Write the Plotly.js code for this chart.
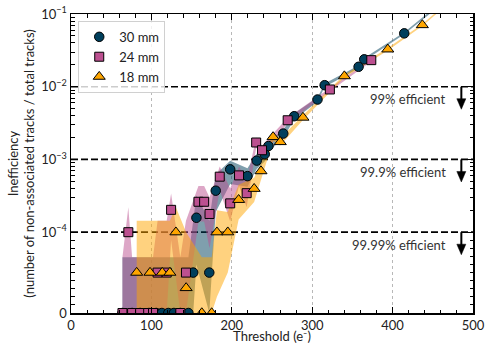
<!DOCTYPE html>
<html><head><meta charset="utf-8">
<script src="https://cdn.plot.ly/plotly-3.0.1.min.js"></script>
<style>html,body{margin:0;padding:0;background:#fff}#chart{width:486px;height:344px}</style>
</head><body><div id="chart"></div>
<script>
// symlog transform (linthresh 1e-4, linscale 1)
const LINTHRESH = 1e-4, LINSCALE = 1 / (1 - 1 / 10);
function T(v) { return v <= LINTHRESH ? LINSCALE * v / LINTHRESH : LINSCALE + Math.log10(v / LINTHRESH); }

// 30 mm
const x30  = [64, 76, 86, 97, 106, 113, 121, 128, 136, 146, 152, 156, 172, 180, 198, 219.5, 231, 241, 245.6, 264, 277.6, 306.6, 315.5, 357.7, 364.7, 414.5, 455];
const y30  = [0, 0, 0, 0, 0, 0, 0, 0, 0, 0, 5e-5, 1.58e-4, 5e-5, 3.72e-4, 7.31e-4, 5.9e-4, 9.64e-4, 1.18e-3, 1.53e-3, 2.27e-3, 3.93e-3, 6.67e-3, 1.05e-2, 1.88e-2, 2.38e-2, 5.42e-2, 0.125];
const lo30 = [0, 0, 0, 0, 0, 0, 0, 0, 0, 0, 0, 6e-5, 0, 1.9e-4, 4.6e-4, 4.2e-4, 7.4e-4, 9.4e-4, 1.28e-3, 1.98e-3, 3.55e-3, 6.2e-3, 9.9e-3, 1.8e-2, 2.28e-2, 5.25e-2, 0.12];
const hi30 = [6.9e-5, 6.9e-5, 6.9e-5, 6.9e-5, 6.9e-5, 6.9e-5, 6.9e-5, 6.9e-5, 6.9e-5, 6.9e-5, 1.44e-4, 3.2e-4, 1.44e-4, 6.2e-4, 9.6e-4, 7.6e-4, 1.2e-3, 1.42e-3, 1.78e-3, 2.56e-3, 4.3e-3, 7.1e-3, 1.11e-2, 1.96e-2, 2.48e-2, 5.6e-2, 0.13];

// 24 mm
const x24  = [64, 71.3, 76, 86, 96, 102, 107.7, 119, 124.5, 136, 143, 158.5, 165.6, 172.3, 185, 198, 209, 218.5, 230.3, 237.6, 269.5, 322, 373.5];
const y24  = [0, 1e-4, 0, 0, 0, 0, 5e-5, 5e-5, 2.03e-4, 0, 5e-5, 2.62e-4, 2.62e-4, 1.78e-4, 5.8e-4, 2.49e-4, 6.04e-4, 3.44e-4, 1.71e-3, 1.34e-3, 3.46e-3, 9.17e-3, 2.32e-2];
const lo24 = [0, 0, 0, 0, 0, 0, 0, 0, 9e-5, 0, 0, 1.4e-4, 1.4e-4, 8e-5, 3.8e-4, 1.4e-4, 4.3e-4, 2.2e-4, 1.45e-3, 1.12e-3, 3.15e-3, 8.7e-3, 2.23e-2];
const hi24 = [6.9e-5, 2.2e-4, 6.9e-5, 6.9e-5, 6.9e-5, 6.9e-5, 1.44e-4, 1.44e-4, 3.4e-4, 6.9e-5, 1.44e-4, 4.3e-4, 4.3e-4, 3.0e-4, 8e-4, 4e-4, 8e-4, 5e-4, 2.0e-3, 1.56e-3, 3.75e-3, 9.6e-3, 2.41e-2];

// 18 mm
const x18  = [81.7, 98.3, 113.5, 123, 130.5, 143.2, 162.7, 175, 181.5, 195, 208.5, 227.8, 236.3, 251.3, 260.3, 288.5, 340, 394, 437, 465];
const y18  = [5e-5, 5e-5, 5e-5, 5e-5, 1e-4, 3.1e-5, 0, 0, 1e-4, 1e-4, 2.79e-4, 3.96e-4, 6.92e-4, 2.04e-3, 1.74e-3, 3.77e-3, 1.4e-2, 3.27e-2, 7.06e-2, 0.13];
const lo18 = [0, 0, 0, 0, 0, 0, 0, 0, 2e-5, 5e-5, 1.5e-4, 2.6e-4, 5.2e-4, 1.8e-3, 1.55e-3, 3.5e-3, 1.34e-2, 3.15e-2, 6.85e-2, 0.126];
const hi18 = [1.44e-4, 1.44e-4, 1.44e-4, 1.44e-4, 2.2e-4, 1.0e-4, 6.9e-5, 6.9e-5, 2.0e-4, 1.9e-4, 4.5e-4, 5.6e-4, 8.8e-4, 2.3e-3, 1.95e-3, 4.05e-3, 1.46e-2, 3.4e-2, 7.3e-2, 0.134];

const seriesNames = ['30 mm', '24 mm', '18 mm'];
const markerColors = ['#003f5c', '#bc5090', '#ffa600'];
const bandColors = ['rgba(0,63,92,0.5)', 'rgba(188,80,144,0.5)', 'rgba(255,166,0,0.5)'];
const symbols = ['circle', 'square', 'triangle-up'];

const yTickVals = [0, 1e-4, 1e-3, 1e-2, 1e-1];
const yTickText = ['0', '10<sup>−4</sup>', '10<sup>−3</sup>', '10<sup>−2</sup>', '10<sup>−1</sup>'];
const effLevels = [1e-2, 1e-3, 1e-4];
const effLabels = ['99% efficient', '99.9% efficient', '99.99% efficient'];

const X = [x30, x24, x18], Y = [y30, y24, y18], LO = [lo30, lo24, lo18], HI = [hi30, hi24, hi18];

const traces = [];
for (let i = 0; i < 3; i++) {
  const xs = X[i].concat(X[i].slice().reverse());
  const ys = HI[i].map(T).concat(LO[i].slice().reverse().map(T));
  traces.push({ x: xs, y: ys, type: 'scatter', mode: 'lines', fill: 'toself',
    fillcolor: bandColors[i], line: { width: 0 }, showlegend: false, hoverinfo: 'skip' });
}
const msize = [9.5, 9, 10.5];
for (let i = 0; i < 3; i++) {
  traces.push({ x: X[i], y: Y[i].map(T), type: 'scatter', mode: 'markers', name: seriesNames[i],
    cliponaxis: true,
    marker: { symbol: symbols[i], size: msize[i], color: markerColors[i], line: { color: '#000', width: 1 } } });
}

// minor ticks for symlog axis
const minorY = [];
for (let k = 1; k <= 9; k++) minorY.push(T(k * 1e-5));
for (const d of [1e-4, 1e-3, 1e-2]) for (let k = 2; k <= 9; k++) minorY.push(T(k * d));

const shapes = [], annotations = [];
const pxPerT = 299 / T(1e-1);
const pxPerX = 402 / 500;
effLevels.forEach((lv, i) => {
  const yl = T(lv);
  shapes.push({ type: 'line', xref: 'paper', x0: 0, x1: 1, yref: 'y', y0: yl, y1: yl, layer: 'below',
    line: { color: '#000', width: 1.7, dash: '7px,3px' } });
  const ax = 485.5;
  shapes.push({ type: 'line', xref: 'x', yref: 'y', x0: ax, x1: ax, y0: yl, y1: yl - 13 / pxPerT,
    line: { color: '#000', width: 2 } });
  const hw = 4.5 / pxPerX;
  const yb = yl - 12 / pxPerT, ya = yl - 22.5 / pxPerT;
  shapes.push({ type: 'path', xref: 'x', yref: 'y',
    path: `M ${ax - hw} ${yb} L ${ax + hw} ${yb} L ${ax} ${ya} Z`,
    fillcolor: '#000', line: { color: '#000', width: 0.5 } });
  annotations.push({ xref: 'x', yref: 'y', x: 468.5, y: yl, yshift: -12.5, xanchor: 'right', yanchor: 'middle',
    text: effLabels[i], showarrow: false, font: { size: 13, color: '#333', family: 'Lato' } });
});

const layout = {
  width: 486, height: 344,
  margin: { l: 71, r: 13, t: 14, b: 31 },
  paper_bgcolor: '#fff', plot_bgcolor: '#fff',
  font: { family: 'Lato', size: 13, color: '#222' },
  showlegend: true,
  legend: { x: 0.018, y: 0.977, xanchor: 'left', yanchor: 'top', bgcolor: 'rgba(255,255,255,0.8)',
    bordercolor: '#d0d0d0', borderwidth: 1, font: { size: 13, color: '#222' }, tracegroupgap: 0 },
  xaxis: {
    range: [0, 500], tickmode: 'linear', tick0: 0, dtick: 100,
    showline: true, linecolor: '#000', linewidth: 1.5, mirror: 'allticks',
    ticks: 'inside', ticklen: 6, tickwidth: 1.2, tickcolor: '#000',
    showgrid: true, gridcolor: '#b8b8b8', gridwidth: 1, griddash: 'dot',
    zeroline: false,
    minor: { tickmode: 'linear', dtick: 20, ticks: 'inside', ticklen: 3.5, tickwidth: 1, tickcolor: '#000', showgrid: false },
    title: { text: 'Threshold (e⁻)', font: { size: 13, color: '#222' }, standoff: 0 },
    tickfont: { size: 13, color: '#222' }
  },
  yaxis: {
    range: [0, T(1e-1)], tickmode: 'array', tickvals: yTickVals.map(T), ticktext: yTickText,
    showline: true, linecolor: '#000', linewidth: 1.5, mirror: 'allticks',
    ticks: 'inside', ticklen: 6, tickwidth: 1.2, tickcolor: '#000',
    showgrid: false, zeroline: false,
    minor: { tickmode: 'array', tickvals: minorY, ticks: 'inside', ticklen: 3.5, tickwidth: 1, tickcolor: '#000', showgrid: false },
    title: { text: 'Inefficiency<br>(number of non-associated tracks / total tracks)', font: { size: 13, color: '#222' }, standoff: 3 },
    tickfont: { size: 13, color: '#222' }
  },
  shapes: shapes,
  annotations: annotations
};

Plotly.newPlot('chart', traces, layout, { displayModeBar: false, staticPlot: true });
</script></body></html>
